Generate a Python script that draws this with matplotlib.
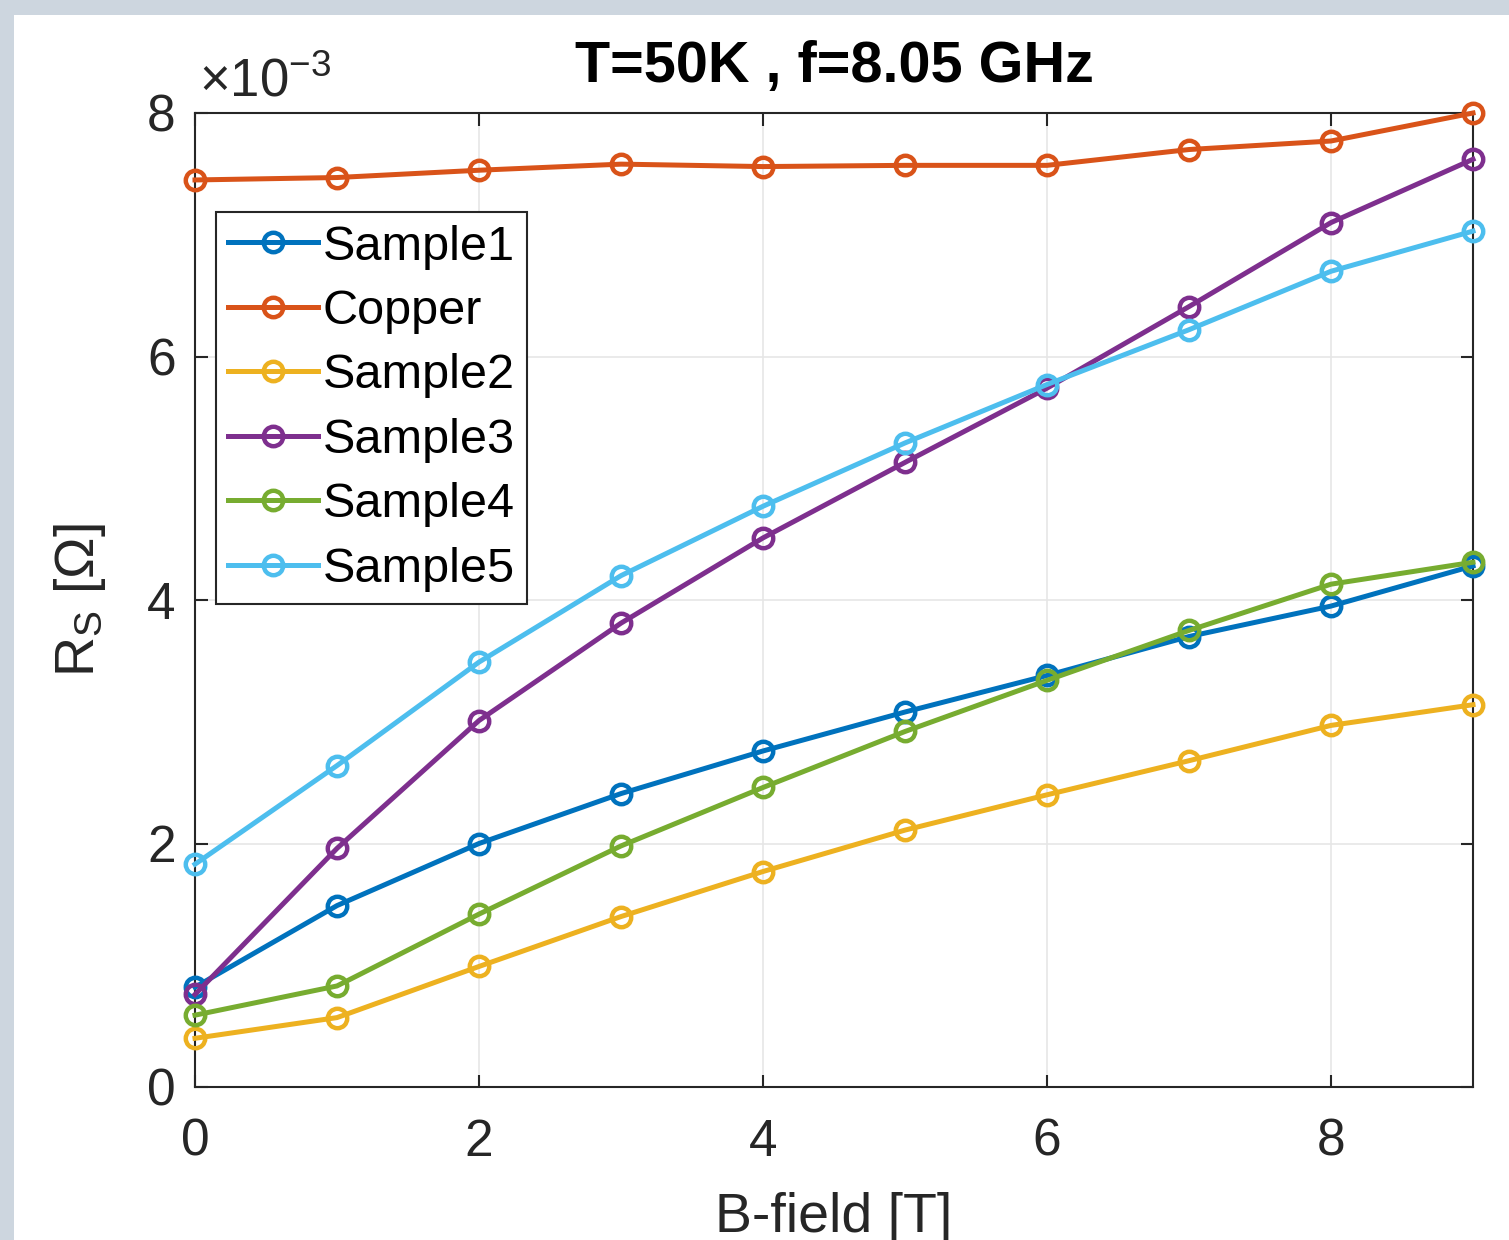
import matplotlib
matplotlib.use("Agg")
import matplotlib.pyplot as plt
from matplotlib.patches import Rectangle

plt.rcParams['font.family'] = ['Liberation Sans', 'DejaVu Sans']
plt.rcParams['mathtext.fontset'] = 'custom'
plt.rcParams['mathtext.rm'] = 'Liberation Sans'
plt.rcParams['mathtext.it'] = 'Liberation Sans:italic'

# B-field [T]
bfield = [0, 1, 2, 3, 4, 5, 6, 7, 8, 9]
# Rs values, units of 1e-3 Ohm
sample1 = [0.82, 1.49, 2.00, 2.41, 2.76, 3.08, 3.38, 3.70, 3.95, 4.28]
copper = [7.45, 7.47, 7.53, 7.58, 7.56, 7.57, 7.57, 7.70, 7.77, 8.00]
sample2 = [0.40, 0.57, 0.99, 1.40, 1.77, 2.11, 2.40, 2.68, 2.97, 3.14]
sample3 = [0.76, 1.96, 3.01, 3.81, 4.51, 5.13, 5.74, 6.41, 7.10, 7.62]
sample4 = [0.59, 0.83, 1.42, 1.98, 2.46, 2.92, 3.34, 3.75, 4.13, 4.31]
sample5 = [1.83, 2.64, 3.49, 4.20, 4.77, 5.29, 5.77, 6.22, 6.70, 7.03]

names = ['Sample1', 'Copper', 'Sample2', 'Sample3', 'Sample4', 'Sample5']
series = [sample1, copper, sample2, sample3, sample4, sample5]
colors = ['#0072BD', '#D95319', '#EDB120', '#7E2F8E', '#77AC30', '#4DBEEE']

fig = plt.figure(figsize=(15.09, 12.40), dpi=100)
fig.patch.set_facecolor('#cdd6df')
fig.patches.append(Rectangle((14 / 1509, 0), 1, (1240 - 15) / 1240,
                             transform=fig.transFigure, facecolor='white',
                             edgecolor='none', zorder=-10))

ax = fig.add_axes([195 / 1509, (1240 - 1087) / 1240, 1278 / 1509, 974 / 1240])

for name, ys, c in zip(names, series, colors):
    ax.plot(bfield, ys, color=c, lw=3.6, marker='o', ms=14, mfc='none',
            mew=3.2, label=name, clip_on=False, zorder=3)

ax.set_xlim(0, 9)
ax.set_ylim(0, 8)
ax.set_xticks([0, 2, 4, 6, 8])
ax.set_yticks([0, 2, 4, 6, 8])
ax.grid(True, color='#e6e6e6', lw=1.2)
ax.set_axisbelow(True)
for s in ax.spines.values():
    s.set_color('#262626')
    s.set_linewidth(1.5)
ax.tick_params(direction='in', length=9, width=1.5, color='#262626',
               top=True, right=True, labelsize=37, labelcolor='#262626')
ax.tick_params(axis='x', pad=22)
ax.tick_params(axis='y', pad=14)

ax.text(0.003, 1.017, r'$\times\mathregular{10}^{\mathregular{-3}}$', transform=ax.transAxes,
        fontsize=38, color='#262626', ha='left', va='baseline')

ax.set_title('T=50K , f=8.05 GHz', fontsize=41.5, fontweight='bold', pad=22)
ax.set_xlabel('B-field [T]', fontsize=40, color='#262626', labelpad=18)
ax.set_ylabel(r'R$_\mathrm{S}$ [Ω]', fontsize=40, color='#262626', labelpad=28)

leg = ax.legend(loc='upper left', bbox_to_anchor=(0.0164, 0.898), fontsize=35,
                fancybox=False, framealpha=1, edgecolor='#262626',
                handlelength=1.85, handletextpad=0.1, labelspacing=0.4,
                borderpad=0.25, borderaxespad=0)
leg.get_frame().set_linewidth(1.5)

fig.savefig('out.png', dpi=100, facecolor=fig.get_facecolor())
